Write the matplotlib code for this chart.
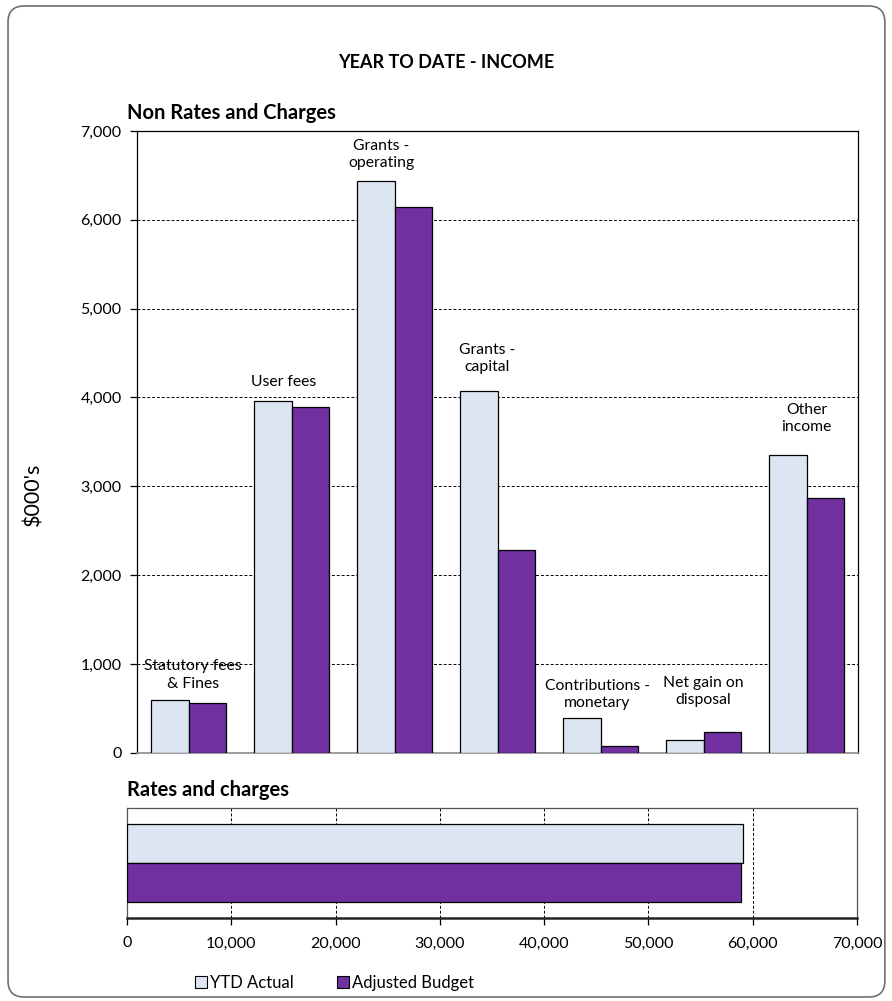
import matplotlib
matplotlib.use("Agg")
import matplotlib.pyplot as plt
import numpy as np
from matplotlib.patches import FancyBboxPatch, Patch
from matplotlib.ticker import FuncFormatter

plt.rcParams["font.family"] = ["Lato", "DejaVu Sans"]

# Non rates and charges ($000's)
categories = [
    "Statutory fees\n& Fines", "User fees", "Grants -\noperating", "Grants -\ncapital",
    "Contributions -\nmonetary", "Net gain on\ndisposal", "Other\nincome",
]
ytd_actual = [598, 3960, 6440, 4075, 387, 139, 3352]
adj_budget = [560, 3893, 6141, 2278, 80, 234, 2873]

# Rates and charges ($000's)
rates_ytd = 59030
rates_budget = 58900

series_names = ["YTD Actual", "Adjusted Budget"]

LIGHT = "#DCE6F2"
PURPLE = "#7030A0"
FS = 11.3

# category label placement: bottom height (data units) and x nudge (category units)
label_y = [700, 4090, 6560, 4260, 480, 517, 3587]
label_dx = [0.04, -0.08, -0.13, -0.10, -0.03, 0.0, 0.0]

fig = plt.figure(figsize=(8.92, 10.01), dpi=100)

# rounded outer border
border = FancyBboxPatch((0.009, 0.004), 0.983, 0.99, boxstyle="round,pad=0,rounding_size=0.018",
                        transform=fig.transFigure, fill=False, edgecolor="#6f6f6f", linewidth=1.2,
                        mutation_aspect=892 / 1001)
fig.patches.append(border)

# --- top chart ---
ax = fig.add_axes([0.1536, 0.2480, 0.8083, 0.6211])
x = np.arange(len(categories))
w = 0.36
ax.bar(x - w / 2, ytd_actual, w, color=LIGHT, edgecolor="black", linewidth=0.9, zorder=3)
ax.bar(x + w / 2, adj_budget, w, color=PURPLE, edgecolor="black", linewidth=0.9, zorder=3)
ax.set_xlim(-0.5, len(categories) - 0.5)
ax.set_ylim(0, 7000)
ax.set_yticks(np.arange(0, 7001, 1000))
ax.yaxis.set_major_formatter(FuncFormatter(lambda v, p: f"{v:,.0f}"))
ax.set_xticks([])
ax.tick_params(axis="y", direction="out", length=5, width=0.9, labelsize=11.5, pad=6)
ax.yaxis.grid(True, linestyle=(0, (3, 2)), color="black", linewidth=0.7, zorder=0)
for s in ["left", "right", "top"]:
    ax.spines[s].set_color("black")
    ax.spines[s].set_linewidth(0.9)
ax.spines["bottom"].set_color("#8c8c8c")
ax.spines["bottom"].set_linewidth(1.2)
ax.set_ylabel("$000's", fontsize=15.5)
ax.yaxis.set_label_coords(-0.130, 0.416)

for xi, name, ly, dx in zip(x, categories, label_y, label_dx):
    ax.text(xi + dx, ly, name, ha="center", va="bottom", fontsize=FS, linespacing=1.3, zorder=4)

# --- bottom chart ---
ax2 = fig.add_axes([0.1424, 0.0832, 0.8184, 0.1099])
bh = 0.355
ax2.barh([0.5 + bh / 2], [rates_ytd], bh, color=LIGHT, edgecolor="black", linewidth=0.9, zorder=3)
ax2.barh([0.5 - bh / 2], [rates_budget], bh, color=PURPLE, edgecolor="black", linewidth=0.9, zorder=3)
ax2.set_ylim(0, 1)
ax2.set_xlim(0, 70000)
ax2.set_xticks(np.arange(0, 70001, 10000))
ax2.xaxis.set_major_formatter(FuncFormatter(lambda v, p: f"{v:,.0f}"))
ax2.set_yticks([])
ax2.tick_params(axis="x", direction="out", length=5, width=0.9, labelsize=11.5, pad=8.5)
ax2.xaxis.grid(True, linestyle=(0, (3, 2)), color="black", linewidth=0.7, zorder=0)
for s in ["left", "right", "top"]:
    ax2.spines[s].set_color("#555555")
    ax2.spines[s].set_linewidth(0.9)
ax2.spines["bottom"].set_color("#222222")
ax2.spines["bottom"].set_linewidth(1.8)

# --- titles ---
fig.text(0.5, 0.938, "YEAR TO DATE - INCOME", ha="center", va="center", fontsize=13, fontweight="bold")
fig.text(0.1424, 0.887, "Non Rates and Charges", ha="left", va="center", fontsize=14.5, fontweight="bold")
fig.text(0.1424, 0.2108, "Rates and charges", ha="left", va="center", fontsize=14.5, fontweight="bold")

handles = [Patch(facecolor=LIGHT, edgecolor="black", linewidth=0.8),
           Patch(facecolor=PURPLE, edgecolor="black", linewidth=0.8)]
fig.legend(handles, series_names, loc="center left", bbox_to_anchor=(0.2186, 0.018), ncol=2, frameon=False,
           fontsize=12, handlelength=0.7, handleheight=0.7, handletextpad=0.2, columnspacing=2.6,
           borderpad=0, borderaxespad=0)

fig.savefig("out.png", dpi=100)
